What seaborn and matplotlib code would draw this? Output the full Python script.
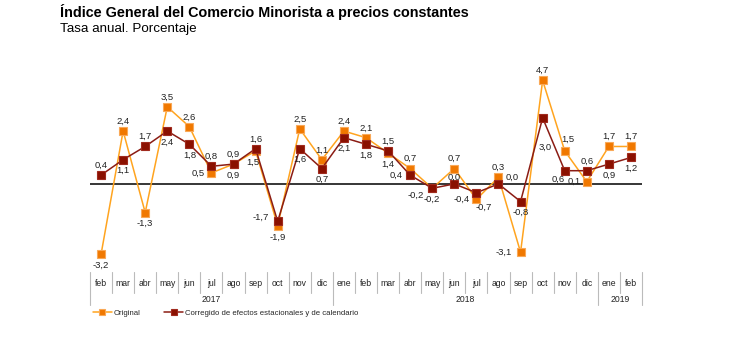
import matplotlib
matplotlib.use("Agg")
import matplotlib.pyplot as plt
import seaborn as sns
import pandas as pd

sns.set_theme(style="white")
plt.rcParams["font.family"] = ["Liberation Sans", "DejaVu Sans"]

months = ["feb", "mar", "abr", "may", "jun", "jul", "ago", "sep", "oct", "nov", "dic",
          "ene", "feb", "mar", "abr", "may", "jun", "jul", "ago", "sep", "oct", "nov", "dic",
          "ene", "feb"]
years = ["2017", "2018", "2019"]
year_lengths = [11, 12, 2]

original = [-3.2, 2.4, -1.3, 3.5, 2.6, 0.5, 0.9, 1.5, -1.9, 2.5, 1.1,
            2.4, 2.1, 1.4, 0.7, -0.2, 0.7, -0.7, 0.3, -3.1, 4.7, 1.5, 0.1,
            1.7, 1.7]
corregido = [0.4, 1.1, 1.7, 2.4, 1.8, 0.8, 0.9, 1.6, -1.7, 1.6, 0.7,
             2.1, 1.8, 1.5, 0.4, -0.2, 0.0, -0.4, 0.0, -0.8, 3.0, 0.6, 0.6,
             0.9, 1.2]

# label offsets (points) and horizontal alignment per point
A, B = ((0, 7), "center"), ((0, -8), "center")
L = ((-5, 0), "right")
pos_orig = [B, A, B, A, A, L, B, ((-2, -8), "center"), B, A, A,
            A, A, B, A, B, A, ((5, -6), "center"), A, ((-6, 0), "right"), A,
            ((2, 8), "center"), ((-4, 0), "right"),
            A, A]
pos_corr = [A, B, A, B, B, A, A, A, ((-6, 3), "right"), B, B,
            B, B, A, L, ((-6, -5), "right"), ((0, 5), "center"),
            ((-5, -5), "right"), ((5, 5), "left"), B, ((2, -21), "center"),
            ((-5, -6), "center"), A,
            B, B]

df = pd.DataFrame({"x": range(len(months)), "orig": original, "corr": corregido})

fig = plt.figure(figsize=(7.44, 3.39), dpi=100)
W, H = 744, 339
ax = fig.add_axes([90 / W, 1 - 272 / H, (642 - 90) / W, (272 - 65) / H])

orange_line = "#FFA41F"
orange_mark = "#F07800"
red_line = "#8B1C14"
red_mark = "#8A1000"

sns.lineplot(data=df, x="x", y="orig", ax=ax, color=orange_line, lw=1.1,
             marker="s", markersize=5.5, markerfacecolor=orange_mark,
             markeredgecolor="#F9A857", markeredgewidth=0.8, label="Original",
             zorder=3)
sns.lineplot(data=df, x="x", y="corr", ax=ax, color=red_line, lw=1.1,
             marker="s", markersize=5.5, markerfacecolor=red_mark,
             markeredgecolor="#A02A1E", markeredgewidth=0.8,
             label="Corregido de efectos estacionales y de calendario", zorder=4)

ax.set_xlim(-0.5, len(months) - 0.5)
ax.set_ylim(-4.0, 5.4)
ax.axhline(0, color="black", lw=1.1, zorder=2)
for s in ax.spines.values():
    s.set_visible(False)
ax.set_xticks([])
ax.set_yticks([])
ax.set_xlabel("")
ax.set_ylabel("")


def fmt(v):
    return f"{v:.1f}".replace(".", ",")


for series, positions in ((original, pos_orig), (corregido, pos_corr)):
    for i, (v, ((dx, dy), ha)) in enumerate(zip(series, positions)):
        ax.annotate(fmt(v), (i, v), xytext=(dx, dy), textcoords="offset points",
                    ha=ha, va="center", fontsize=6.8, color="#222222", zorder=6)

# category axis: month labels, year labels and separators below the plot
trans = ax.get_xaxis_transform()
sep_color = "#BBBBBB"
span = 272 - 65
y_month_bot = -(293 - 272) / span
y_year_bot = -(305 - 272) / span
y_month_txt = -(283 - 272) / span
y_year_txt = -(299 - 272) / span

for i, m in enumerate(months):
    ax.text(i, y_month_txt, m, transform=trans, ha="center", va="center",
            fontsize=6.2, color="#222222")

boundaries = [-0.5]
for n in year_lengths:
    boundaries.append(boundaries[-1] + n)
year_edges = set(boundaries)
for b in [i - 0.5 for i in range(len(months) + 1)]:
    bot = y_year_bot if b in year_edges else y_month_bot
    ax.plot([b, b], [0, bot], transform=trans, color=sep_color, lw=0.8,
            clip_on=False)
for yr, a, b in zip(years, boundaries[:-1], boundaries[1:]):
    ax.text((a + b) / 2, y_year_txt, yr, transform=trans, ha="center",
            va="center", fontsize=6.2, color="#222222")

ax.legend(loc="center left", bbox_to_anchor=(86 / W, 1 - 313 / H),
          bbox_transform=fig.transFigure, ncol=2, frameon=False, fontsize=5.6,
          handlelength=2.4, handletextpad=0.3, columnspacing=3.0,
          markerscale=0.75)

fig.text(60 / W, 1 - 12 / H, "Índice General del Comercio Minorista a precios constantes",
         fontsize=10.4, fontweight="bold", ha="left", va="center", color="black")
fig.text(60 / W, 1 - 29 / H, "Tasa anual. Porcentaje", fontsize=9.6,
         ha="left", va="center", color="black")

fig.savefig("out.png", dpi=100)
